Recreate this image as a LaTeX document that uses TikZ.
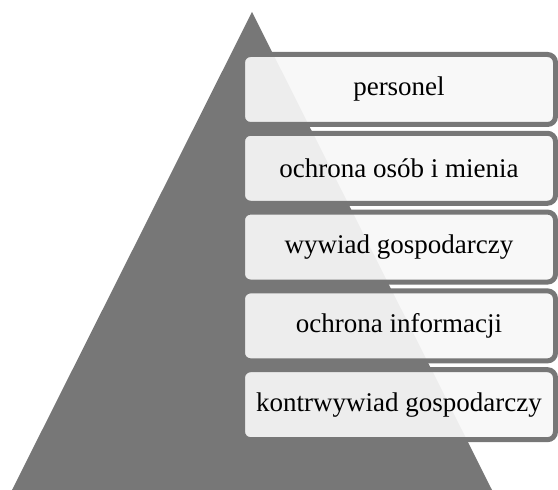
\documentclass[tikz,border=0pt]{standalone}
\usepackage{fontspec}
\setmainfont{Liberation Serif}
\usetikzlibrary{positioning}
\definecolor{pyr}{RGB}{119,119,119}
\definecolor{boxfill}{RGB}{247,247,247}

\begin{document}
\begin{tikzpicture}[x=1pt,y=1pt,
  level/.style={rectangle,rounded corners=8pt,draw=pyr,line width=5pt,fill=boxfill,
    fill opacity=0.93,text opacity=1,minimum width=313pt,minimum height=70pt,inner sep=0,
    font=\fontsize{27}{30}\selectfont},
  node distance=3.8pt]
 \useasboundingbox (0,0) rectangle (558,490);
 % pyramid
 \coordinate (top) at (252,478);
 \coordinate (bl) at (12,0);
 \coordinate (br) at (492,0);
 \fill[pyr] (top) -- (br) -- (bl) -- cycle;
 % levels
 \node[level] (l1) at (399,400.5) {personel};
 \node[level,below=of l1] (l2) {ochrona osób i mienia};
 \node[level,below=of l2] (l3) {wywiad gospodarczy};
 \node[level,below=of l3] (l4) {ochrona informacji};
 \node[level,below=of l4] (l5) {kontrwywiad gospodarczy};
\end{tikzpicture}
\end{document}
